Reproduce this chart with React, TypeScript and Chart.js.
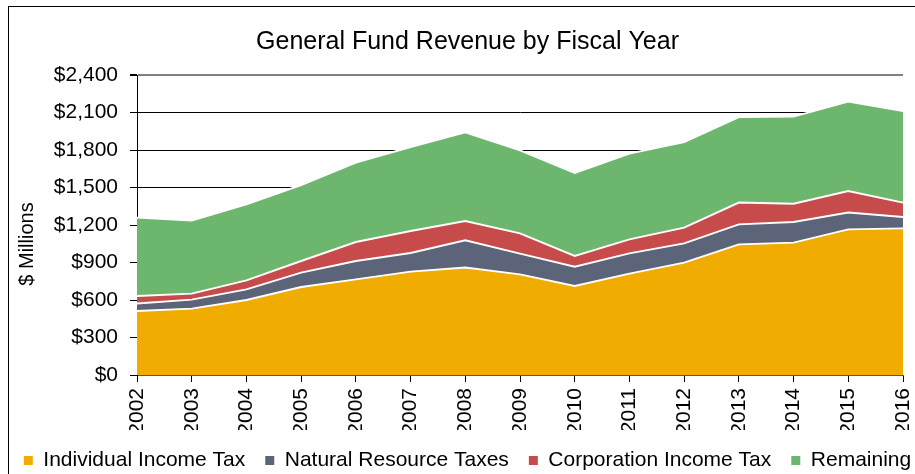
import React, { useEffect, useRef } from 'react';
import { Chart, registerables } from 'chart.js';

Chart.register(...registerables);

const years = ['2002', '2003', '2004', '2005', '2006', '2007', '2008', '2009', '2010', '2011', '2012', '2013', '2014', '2015', '2016'];
const individualIncomeTax = [512, 531, 600, 704, 765, 827, 859, 805, 712, 811, 899, 1045, 1059, 1165, 1173];
const naturalResourceTaxes = [60, 72, 85, 115, 147, 149, 218, 166, 155, 162, 154, 160, 165, 134, 91];
const corporationIncomeTax = [60, 48, 72, 93, 152, 176, 155, 162, 85, 112, 126, 174, 147, 173, 115];
const remaining = [627, 586, 608, 608, 635, 672, 709, 664, 664, 686, 685, 685, 696, 715, 733];
const seriesNames = ['Individual Income Tax', 'Natural Resource Taxes', 'Corporation Income Tax', 'Remaining'];
const seriesColors = ['#F0AC00', '#5B6478', '#C84B4B', '#6CB66D'];
const yAxisTitle = '$ Millions';
const chartTitle = 'General Fund Revenue by Fiscal Year';
const yMin = 0;
const yMax = 2400;
const yStep = 300;

const FONT = '"Liberation Sans", Arial, Helvetica, sans-serif';

const yTitlePlugin = {
  id: 'yTitlePlugin',
  afterDraw(chart: any) {
    const ctx = chart.ctx;
    ctx.save();
    ctx.fillStyle = '#000';
    ctx.font = `20px ${FONT}`;
    ctx.textAlign = 'center';
    ctx.textBaseline = 'middle';
    ctx.translate(27, 244);
    ctx.rotate(-Math.PI / 2);
    ctx.fillText(yAxisTitle, 0, 0);
    ctx.restore();
  },
};

export default function App() {
  const canvasRef = useRef<HTMLCanvasElement | null>(null);

  useEffect(() => {
    if (!canvasRef.current) return;
    const values = [individualIncomeTax, naturalResourceTaxes, corporationIncomeTax, remaining];
    const chart = new Chart(canvasRef.current, {
      type: 'line',
      data: {
        labels: years,
        datasets: values.map((d, i) => ({
          label: seriesNames[i],
          data: d,
          backgroundColor: seriesColors[i],
          borderColor: '#FFFFFF',
          borderWidth: 2,
          pointRadius: 0,
          pointHoverRadius: 0,
          tension: 0,
          fill: i === 0 ? 'origin' : '-1',
        })),
      },
      plugins: [yTitlePlugin],
      options: {
        responsive: false,
        animation: false,
        layout: { padding: { left: 0, right: 0, top: 0, bottom: 0 } },
        plugins: {
          title: {
            display: true,
            text: chartTitle,
            color: '#000',
            font: { family: FONT, size: 25, weight: 'normal' },
            padding: { top: 27, bottom: 18 },
          },
          legend: {
            position: 'bottom',
            labels: {
              color: '#000',
              font: { family: FONT, size: 21 },
              boxWidth: 9,
              boxHeight: 9,
              padding: 20,
              generateLabels: (ch: any) =>
                ch.data.datasets.map((ds: any, i: number) => ({
                  text: ds.label,
                  fillStyle: ds.backgroundColor,
                  strokeStyle: ds.backgroundColor,
                  lineWidth: 0,
                  hidden: false,
                  datasetIndex: i,
                  fontColor: '#000',
                })),
            },
          },
          tooltip: { enabled: false },
        },
        scales: {
          x: {
            type: 'category',
            afterFit: (s: any) => { s.height = 55; s.paddingRight = 32; },
            grid: {
              display: true,
              drawOnChartArea: false,
              drawTicks: true,
              tickLength: 7,
              tickColor: '#000',
            },
            border: { display: true, color: '#555', width: 1 },
            ticks: {
              color: '#000',
              font: { family: FONT, size: 21 },
              minRotation: 90,
              maxRotation: 90,
              padding: 6,
              autoSkip: false,
            },
          },
          y: {
            stacked: true,
            min: yMin,
            max: yMax,
            afterFit: (s: any) => { s.width = 137; },
            grid: {
              display: true,
              drawOnChartArea: true,
              drawTicks: true,
              tickLength: 7,
              tickColor: '#000',
              color: (c: any) => (c.tick && c.tick.value === yMax ? '#808080' : '#000'),
              lineWidth: (c: any) => (c.tick && c.tick.value === yMax ? 2 : 1),
            },
            border: { display: true, color: '#000', width: 1 },
            ticks: {
              stepSize: yStep,
              color: '#000',
              font: { family: FONT, size: 21 },
              padding: 12,
              callback: (v: any) => '$' + Number(v).toLocaleString('en-US'),
            },
            title: { display: false },
          },
        },
      },
    });
    return () => chart.destroy();
  }, []);

  return (
    <div style={{ position: 'fixed', left: 0, top: 0, width: 915, height: 474, overflow: 'hidden', background: '#fff' }}>
      <div style={{ position: 'absolute', left: 8, top: 6, width: 1000, height: 1000, border: '1px solid #000' }} />
      <canvas ref={canvasRef} width={935} height={481} style={{ position: 'absolute', left: 0, top: 0, width: 935, height: 481 }} />
    </div>
  );
}
